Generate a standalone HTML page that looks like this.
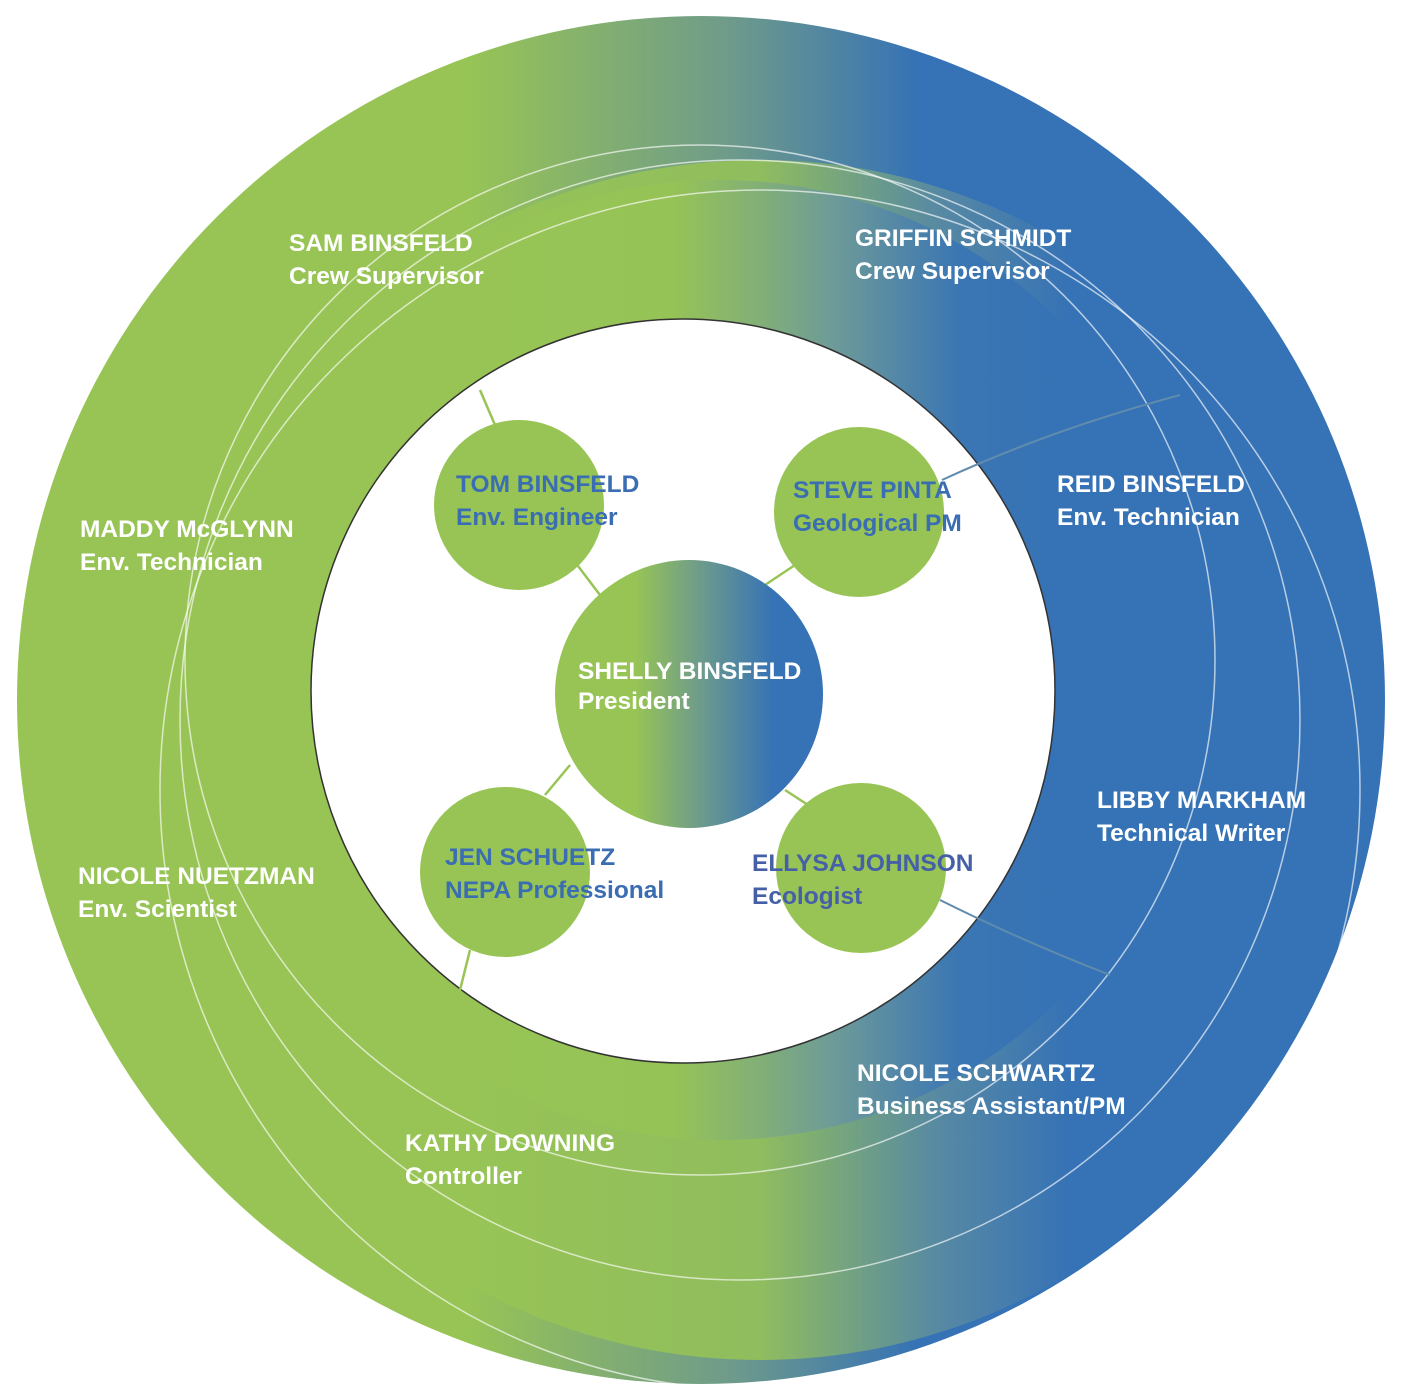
<!DOCTYPE html>
<html><head><meta charset="utf-8"><style>
html,body{margin:0;padding:0;background:#fff;width:1402px;height:1400px;overflow:hidden}
svg{display:block}
text{font-family:"Liberation Sans",Arial,sans-serif;font-weight:bold;font-size:24.5px}
.w{fill:#fff}.b{fill:#3a6db2}
</style></head><body>
<svg width="1402" height="1400" viewBox="0 0 1402 1400">
<defs>
<linearGradient id="g1" x1="0" y1="0" x2="1" y2="0">
<stop offset="0.33" stop-color="#97c455"/><stop offset="0.52" stop-color="#6f9b8a"/><stop offset="0.66" stop-color="#3572b6"/></linearGradient>
<linearGradient id="g2" x1="0" y1="0" x2="1" y2="0">
<stop offset="0.5" stop-color="#97c455"/><stop offset="0.65" stop-color="#5d8da0"/><stop offset="0.76" stop-color="#3572b6"/></linearGradient>
<linearGradient id="g3" x1="0" y1="0" x2="1" y2="0">
<stop offset="0.45" stop-color="#97c455"/><stop offset="0.62" stop-color="#6a97a0"/><stop offset="0.75" stop-color="#3572b6"/></linearGradient>
<linearGradient id="gc" x1="0" y1="0" x2="1" y2="0">
<stop offset="0.3" stop-color="#97c455"/><stop offset="0.55" stop-color="#6c9a8d"/><stop offset="0.82" stop-color="#3572b6"/></linearGradient>
</defs>
<circle cx="701" cy="700" r="684" fill="url(#g1)"/>
<circle cx="760" cy="760" r="600" fill="url(#g2)" opacity="0.85"/>
<circle cx="720" cy="660" r="480" fill="url(#g3)" opacity="0.8"/>
<g fill="none" stroke="#fff" stroke-opacity="0.65" stroke-width="1.5">
<circle cx="700" cy="660" r="515"/>
<circle cx="740" cy="720" r="560"/>
<circle cx="760" cy="790" r="600"/>
</g>
<circle cx="683" cy="691" r="372" fill="#fff" stroke="#333" stroke-width="1.5"/>
<g stroke="#97c455" stroke-width="2.5">
<line x1="480" y1="390" x2="495" y2="425"/>
<line x1="578" y1="566" x2="600" y2="595"/>
<line x1="765" y1="585" x2="795" y2="565"/>
<line x1="570" y1="765" x2="545" y2="795"/>
<line x1="785" y1="790" x2="808" y2="805"/>
<line x1="470" y1="950" x2="455" y2="1010"/>
</g>
<g stroke="#5f8cae" stroke-width="2" fill="none">
<path d="M942 480 Q1050 430 1180 395"/>
<path d="M940 900 Q1020 940 1110 975"/>
</g>
<circle cx="689" cy="694" r="134" fill="url(#gc)"/>
<g fill="#97c455">
<circle cx="519" cy="505" r="85"/>
<circle cx="859" cy="512" r="85"/>
<circle cx="505" cy="872" r="85"/>
<circle cx="861" cy="868" r="85"/>
</g>
<text class="w" x="578" y="679">SHELLY BINSFELD</text>
<text class="w" x="578" y="709">President</text>
<text class="b" x="456" y="492">TOM BINSFELD</text>
<text class="b" x="456" y="525">Env. Engineer</text>
<text class="b" x="793" y="498">STEVE PINTA</text>
<text class="b" x="793" y="531">Geological PM</text>
<text class="b" x="445" y="865">JEN SCHUETZ</text>
<text class="b" x="445" y="898">NEPA Professional</text>
<text class="b" x="752" y="871" style="fill:#4660a8">ELLYSA JOHNSON</text>
<text class="b" x="752" y="904" style="fill:#4660a8">Ecologist</text>
<text class="w" x="289" y="251">SAM BINSFELD</text>
<text class="w" x="289" y="284">Crew Supervisor</text>
<text class="w" x="855" y="246">GRIFFIN SCHMIDT</text>
<text class="w" x="855" y="279">Crew Supervisor</text>
<text class="w" x="80" y="537">MADDY McGLYNN</text>
<text class="w" x="80" y="570">Env. Technician</text>
<text class="w" x="1057" y="492">REID BINSFELD</text>
<text class="w" x="1057" y="525">Env. Technician</text>
<text class="w" x="1097" y="808">LIBBY MARKHAM</text>
<text class="w" x="1097" y="841">Technical Writer</text>
<text class="w" x="78" y="884">NICOLE NUETZMAN</text>
<text class="w" x="78" y="917">Env. Scientist</text>
<text class="w" x="857" y="1081">NICOLE SCHWARTZ</text>
<text class="w" x="857" y="1114">Business Assistant/PM</text>
<text class="w" x="405" y="1151">KATHY DOWNING</text>
<text class="w" x="405" y="1184">Controller</text>
</svg>
</body></html>
